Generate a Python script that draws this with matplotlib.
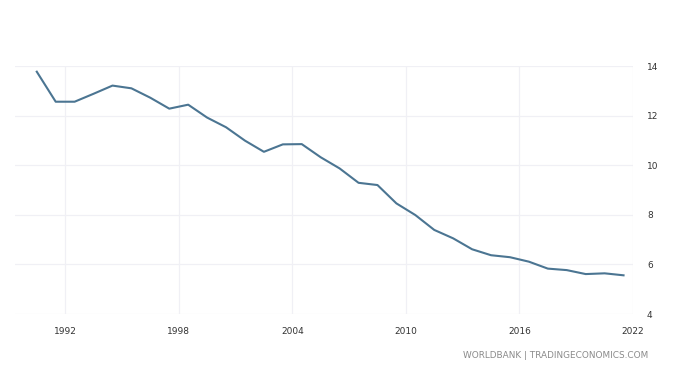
import numpy as np
import matplotlib.pyplot as plt

years = np.arange(1990, 2022)
values = [13.77, 12.56, 12.56, 12.88, 13.21, 13.10, 12.72, 12.28, 12.44, 11.92,
          11.53, 10.99, 10.54, 10.84, 10.85, 10.32, 9.87, 9.29, 9.20, 8.46,
          7.99, 7.39, 7.05, 6.61, 6.37, 6.29, 6.11, 5.83, 5.77, 5.61,
          5.64, 5.56]
xticks = [1992, 1998, 2004, 2010, 2016, 2022]
yticks = [4, 6, 8, 10, 12, 14]

fig = plt.figure(figsize=(6.98, 3.72), dpi=100)
ax = fig.add_axes([15/698, 1 - 314/372, (633 - 15)/698, (314 - 66)/372])

# annual points sit mid-year, ticks on Jan 1
ax.plot(years + 0.5, values, color="#4b7592", lw=1.5, solid_joinstyle="round")

ax.set_xlim(1989.35, 2022)
ax.set_ylim(4, 14)
ax.set_xticks(xticks)
ax.set_yticks(yticks)
ax.yaxis.tick_right()
ax.grid(True, color="#f0f0f5", lw=0.9)
ax.set_axisbelow(True)
for s in ax.spines.values():
    s.set_visible(False)
ax.tick_params(length=0, labelsize=6.5, colors="#333333", pad=9)
ax.tick_params(axis="y", pad=10)

fig.text(648/698, 1 - 355/372, "WORLDBANK | TRADINGECONOMICS.COM", ha="right",
         va="center", fontsize=6.4, color="#8a8a8a")

fig.savefig("out.png", dpi=100)
